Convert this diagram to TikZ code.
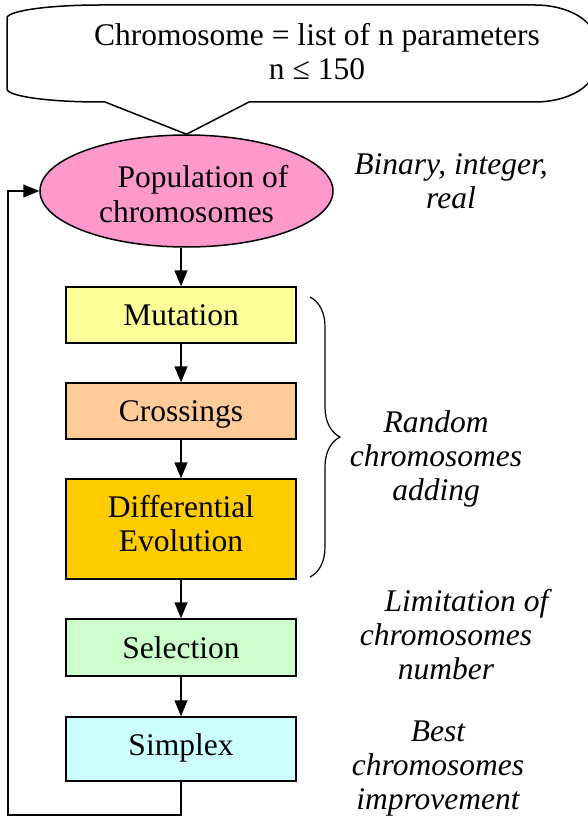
\documentclass[tikz,border=0pt]{standalone}
\usepackage{fontspec}
\setmainfont{Liberation Serif}
\usetikzlibrary{arrows.meta,decorations.pathreplacing,shapes.geometric}
\definecolor{popfill}{HTML}{FF99CC}
\definecolor{mutfill}{HTML}{FFFF99}
\definecolor{crofill}{HTML}{FFCC99}
\definecolor{defill}{HTML}{FFCC00}
\definecolor{selfill}{HTML}{CCFFCC}
\definecolor{simfill}{HTML}{CCFFFF}
\begin{document}
\begin{tikzpicture}[x=1pt,y=-1pt,
  every node/.style={font=\fontsize{31.5}{34}\selectfont},
  flowbox/.style={draw=black, line width=1.5pt, rectangle, minimum width=230pt,
    inner sep=0pt, text height=21.5pt, text depth=0pt},
  arr/.style={line width=1.5pt, -{Triangle[length=16pt,width=13pt]}},
  note/.style={font=\fontsize{31.5}{34}\selectfont\itshape, align=center,
    anchor=base, inner sep=0pt}
]
\useasboundingbox (0,0) rectangle (588,821);
\fill[white] (0,0) rectangle (588,821);

% population ellipse
\node[ellipse, draw=black, line width=1.5pt, fill=popfill, minimum width=293pt,
  minimum height=112pt, inner sep=0pt, align=center, text height=62pt,
  text depth=0pt] (pop) at (186.5,191) {\hspace*{33pt}Population of\\chromosomes};

% callout
\draw[line width=1.5pt, fill=white] (105,102) -- (pop.north) -- (249,102) -- (535,102)
  .. controls (568,102) and (595,86.3) .. (595,67)
  -- (595,40)
  .. controls (595,20.7) and (568,5) .. (535,5)
  -- (100,5)
  .. controls (48.7,5) and (7,10.8) .. (7,18)
  -- (7,89)
  .. controls (7,96.2) and (48.7,102) .. (100,102)
  -- cycle;
\node[align=center, anchor=base, inner sep=0pt] (ctext) at (317,80)
  {Chromosome = list of n parameters\\n ≤ 150};

% boxes
\node[flowbox, fill=mutfill, minimum height=56pt] (mut) at (181,315) {Mutation};
\node[flowbox, fill=crofill, minimum height=56pt] (cro) at (181,411) {Crossings};
\node[flowbox, fill=defill, minimum height=100pt, align=center, text height=44pt,
  text depth=0pt] (de) at (181,529) {Differential\\Evolution};
\node[flowbox, fill=selfill, minimum height=57pt] (sel) at (181,647.5) {Selection};
\node[flowbox, fill=simfill, minimum height=64pt, text depth=9pt] (sim) at (181,749) {Simplex};

% connectors
\draw[arr] (mut.north |- pop.south) -- (mut.north);
\draw[arr] (mut) -- (cro);
\draw[arr] (cro) -- (de);
\draw[arr] (de) -- (sel);
\draw[arr] (sel) -- (sim);
\coordinate (lb) at (8,815);
\draw[arr] (sim.south) |- (lb) |- (pop.west);

% brace
\coordinate (bt) at (310,297);
\coordinate (bb) at (310,577);
\draw[line width=1.2pt, decorate, decoration={brace, amplitude=30pt}] (bt) -- (bb);

% notes
\node[note] (n1) at (451,208) {Binary, integer,\\real};
\node[note] (n2) at (436,500) {Random\\chromosomes\\adding};
\node[note] (n3) at (446,679) {\hspace*{41pt}Limitation of\\chromosomes\\number};
\node[note] (n4) at (438,809) {Best\\chromosomes\\improvement};
\end{tikzpicture}
\end{document}
